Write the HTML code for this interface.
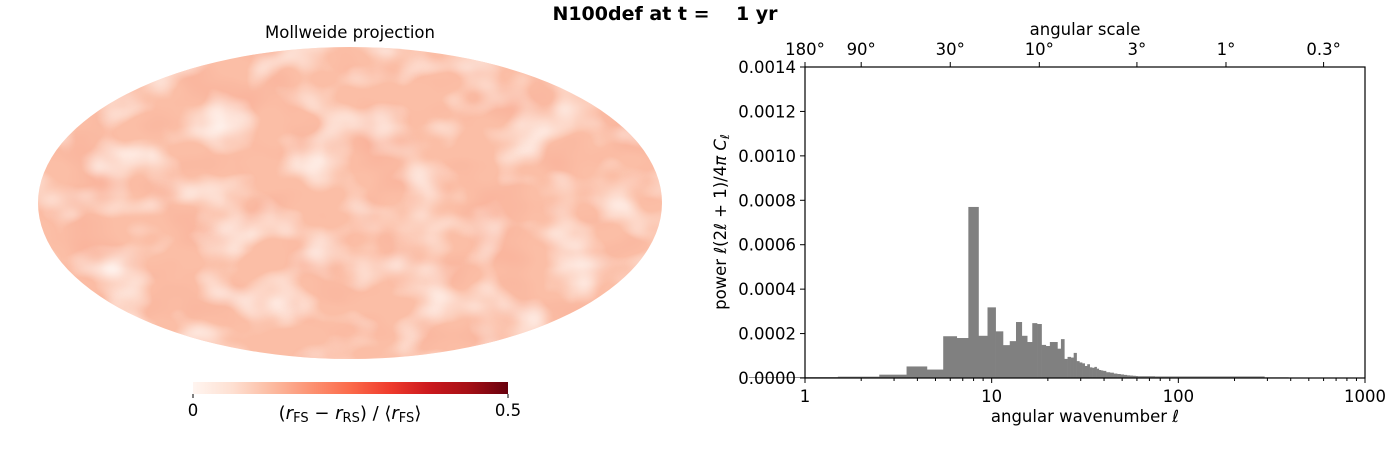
<!DOCTYPE html>
<html><head><meta charset="utf-8"><style>
body{margin:0;background:#fff;font-family:"Liberation Sans","DejaVu Sans",sans-serif;}
svg text{font-family:"DejaVu Sans","Liberation Sans",sans-serif;}
</style></head><body>
<svg id="root" width="1400" height="444" viewBox="0 0 1400 444" xmlns="http://www.w3.org/2000/svg">
<defs>
<clipPath id="ell"><ellipse cx="350" cy="203" rx="312" ry="156"/></clipPath>
<filter id="tw" x="0" y="0" width="100%" height="100%">
<feTurbulence type="fractalNoise" baseFrequency="0.02 0.028" numOctaves="2" seed="4"/>
<feColorMatrix type="matrix" values="0 0 0 0 1  0 0 0 0 0.96  0 0 0 0 0.94  2.0 0 0 0 -0.88"/>
</filter>
<filter id="tr" x="0" y="0" width="100%" height="100%">
<feTurbulence type="fractalNoise" baseFrequency="0.017 0.025" numOctaves="2" seed="11"/>
<feColorMatrix type="matrix" values="0 0 0 0 0.95  0 0 0 0 0.45  0 0 0 0 0.33  0 2.2 0 0 -0.95"/>
</filter>
<linearGradient id="reds" x1="0" x2="1" y1="0" y2="0">
<stop offset="0" stop-color="#fff5f0"/><stop offset="0.125" stop-color="#fee0d2"/>
<stop offset="0.25" stop-color="#fcbba1"/><stop offset="0.375" stop-color="#fc9272"/>
<stop offset="0.5" stop-color="#fb6a4a"/><stop offset="0.625" stop-color="#ef3b2c"/>
<stop offset="0.75" stop-color="#cb181d"/><stop offset="0.875" stop-color="#a50f15"/>
<stop offset="1" stop-color="#67000d"/></linearGradient>
</defs>
<text x="665" y="20" font-size="19" font-weight="bold" text-anchor="middle" xml:space="preserve" style="white-space:pre">N100def at t =    1 yr</text>
<text x="350" y="38" font-size="16.5" text-anchor="middle">Mollweide projection</text>
<g clip-path="url(#ell)">
<rect x="38" y="47" width="624" height="312" fill="#fbbea6"/>
<rect x="38" y="47" width="624" height="312" filter="url(#tr)"/>
<rect x="38" y="47" width="624" height="312" filter="url(#tw)"/>
</g>
<rect x="193" y="382" width="315" height="12" fill="url(#reds)"/>
<line x1="193" y1="394" x2="193" y2="398" stroke="#000"/><line x1="508" y1="394" x2="508" y2="398" stroke="#000"/>
<text x="193" y="416" font-size="16.5" text-anchor="middle">0</text>
<text x="508" y="416" font-size="16.5" text-anchor="middle">0.5</text>
<text x="350" y="419" font-size="18" text-anchor="middle">(<tspan font-style="italic">r</tspan><tspan font-size="13" dy="3">FS</tspan><tspan dy="-3"> − </tspan><tspan font-style="italic">r</tspan><tspan font-size="13" dy="3">RS</tspan><tspan dy="-3">) / ⟨</tspan><tspan font-style="italic">r</tspan><tspan font-size="13" dy="3">FS</tspan><tspan dy="-3">⟩</tspan></text>
<g id="chart"></g>
</svg>
<script>
const ells = [1,2,3,4,5,6,7,8,9,10,11,12,13,14,15,16,17,18,19,20,21,22,23,24,25,26,27,28,29,30,31,32,33,34,35,36,37,38,39,40,42,44,46,48,50,52,54,56,58,60];
const power = [0.000004,0.000006,0.000015,0.000052,0.000038,0.000188,0.00018,0.00077,0.00019,0.000318,0.00021,0.000148,0.000166,0.000252,0.00019,0.000162,0.000247,0.000243,0.000149,0.000144,0.000162,0.000162,0.000132,0.000175,0.000086,0.000095,0.000092,0.000113,0.000076,0.00007,0.000066,0.000054,0.000062,0.000048,0.000046,0.00005,0.000042,0.000036,0.000034,0.000032,0.000026,0.000024,0.00002,0.000018,0.000016,0.000014,0.000012,0.000011,0.00001,0.000009];
const tailLo = [61,75,290];
const tailHi = [75,290,390];
const tailPower = [0.000008,0.000007,0.000003];
const yTicks = [0,0.0002,0.0004,0.0006,0.0008,0.0010,0.0012,0.0014];
const xTicks = [1,10,100,1000];
const topTickLabels = ["180°","90°","30°","10°","3°","1°","0.3°"];
const topTickDeg = [180,90,30,10,3,1,0.3];

const NS="http://www.w3.org/2000/svg";
const g=document.getElementById('chart');
const X0=805,X1=1365,Y0=378,Y1=67;
const FS=16.5;
const xs=l=>X0+(Math.log10(l)-0)/3*(X1-X0);
const ys=v=>Y0-v/0.0014*(Y0-Y1);
function mk(t,a,p){const e=document.createElementNS(NS,t);for(const k in a)e.setAttribute(k,a[k]);(p||g).appendChild(e);return e;}
const bars=mk('g',{});


ells.forEach((l,i)=>{
  const step = i+1<ells.length ? ells[i+1]-l : 1;
  const lo = i>0 ? (l+ells[i-1])/2 : l-0.5;
  const hi = l+step/2;
  const r=mk('rect',{x:xs(lo),y:ys(power[i]),width:xs(hi)-xs(lo)+0.3,height:Y0-ys(power[i]),fill:'#808080'},bars);
  
  
});
tailLo.forEach((lo,i)=>{
  const r=mk('rect',{x:xs(lo-0.5),y:ys(tailPower[i]),width:xs(tailHi[i])-xs(lo-0.5),height:Y0-ys(tailPower[i]),fill:'#808080'},bars);
  
  
});
const frame=mk('rect',{x:X0,y:Y1,width:X1-X0,height:Y0-Y1,fill:'none',stroke:'#000','stroke-width':1.2});


yTicks.forEach(v=>{
  mk('line',{x1:X0-5,x2:X0,y1:ys(v),y2:ys(v),stroke:'#000'});
  const t=mk('text',{x:X0-9,y:ys(v)+6,'font-size':FS,'text-anchor':'end'});
  t.textContent=v.toFixed(4);
  
  
});
xTicks.forEach(v=>{
  mk('line',{x1:xs(v),x2:xs(v),y1:Y0,y2:Y0+5,stroke:'#000'});
  const t=mk('text',{x:xs(v),y:Y0+24,'font-size':FS,'text-anchor':'middle'});
  t.textContent=String(v);
  
  
});
for(let d=1;d<1000;d*=10)for(let k=2;k<10;k++){mk('line',{x1:xs(d*k),x2:xs(d*k),y1:Y0,y2:Y0+3,stroke:'#000'});}
topTickDeg.forEach((deg,i)=>{
  const x=xs(180/deg);
  mk('line',{x1:x,x2:x,y1:Y1-5,y2:Y1,stroke:'#000'});
  const t=mk('text',{x:x,y:Y1-12,'font-size':FS,'text-anchor':'middle'});
  t.textContent=topTickLabels[i];
  
  
});
let t=mk('text',{x:1085,y:35,'font-size':FS,'text-anchor':'middle'});t.textContent='angular scale';


t=mk('text',{x:1085,y:422,'font-size':FS,'text-anchor':'middle'});t.innerHTML='angular wavenumber <tspan font-style="italic">ℓ</tspan>';


t=mk('text',{x:0,y:0,'font-size':FS,'text-anchor':'middle',transform:'translate(726,222) rotate(-90)'});
t.innerHTML='power <tspan font-style="italic">ℓ</tspan>(2<tspan font-style="italic">ℓ</tspan> + 1)/4<tspan font-style="italic">π C</tspan><tspan font-size="12" font-style="italic" dy="3">ℓ</tspan>';


</script>
</body></html>
